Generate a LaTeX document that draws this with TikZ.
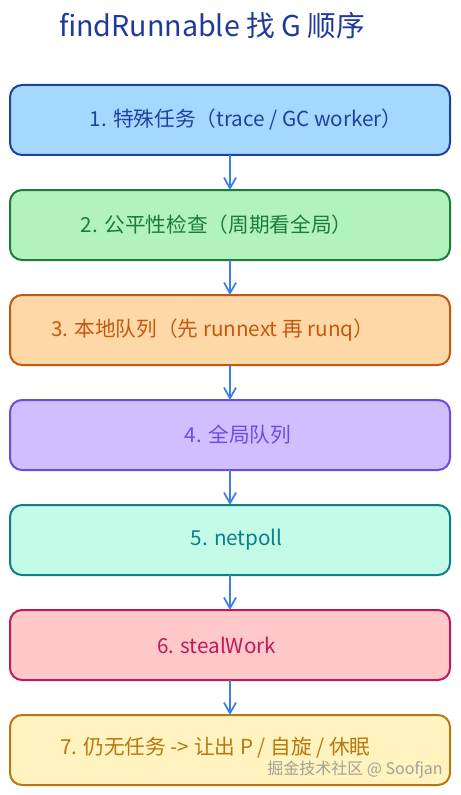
\documentclass[tikz,border=0pt]{standalone}
\usepackage{fontspec}
\setmainfont{Noto Sans CJK SC}
\usepackage{tikz}
\usetikzlibrary{positioning, arrows.meta, calc}
\definecolor{ttlBlue}{HTML}{1E3A9E}
\definecolor{arrBlue}{HTML}{3D7FE6}
\definecolor{fSpecial}{HTML}{A5D8FF}
\definecolor{fSpecialB}{HTML}{1E429F}
\definecolor{fFair}{HTML}{B2F2BB}
\definecolor{fFairB}{HTML}{1C7C3C}
\definecolor{fLocal}{HTML}{FFD8A8}
\definecolor{fLocalB}{HTML}{C4580E}
\definecolor{fGlobal}{HTML}{D0BFFF}
\definecolor{fGlobalB}{HTML}{7048E8}
\definecolor{fNet}{HTML}{C3FAE8}
\definecolor{fNetB}{HTML}{0F7F86}
\definecolor{fSteal}{HTML}{FFC9C9}
\definecolor{fStealB}{HTML}{C2185B}
\definecolor{fIdle}{HTML}{FFF3BF}
\definecolor{fIdleB}{HTML}{B8780E}

\begin{document}
\begin{tikzpicture}[x=0.75pt, y=-0.75pt, box/.style={draw, rounded corners=9pt, line width=1.5pt, minimum width=330pt, minimum height=52.5pt, inner sep=0pt, outer sep=0pt}, txt/.style={font=\fontsize{15.5}{18}\selectfont, inner sep=0pt}, arr/.style={-{Straight Barb[length=8pt, width=9pt]}, line width=1.3pt, color=arrBlue}]
\useasboundingbox (0,0) rectangle (460,795);
\node[font=\fontsize{21.5}{26}\selectfont, color=ttlBlue] (title) at (212,26) {findRunnable 找 G 顺序};
\node[box, fill=fSpecial, draw=fSpecialB] (b1) at (230,120) {};
\node[box, fill=fFair, draw=fFairB, below=26.25pt of b1] (b2) {};
\node[box, fill=fLocal, draw=fLocalB, below=26.25pt of b2] (b3) {};
\node[box, fill=fGlobal, draw=fGlobalB, below=26.25pt of b3] (b4) {};
\node[box, fill=fNet, draw=fNetB, below=26.25pt of b4] (b5) {};
\node[box, fill=fSteal, draw=fStealB, below=26.25pt of b5] (b6) {};
\node[box, fill=fIdle, draw=fIdleB, below=26.25pt of b6] (b7) {};
\node[txt, text=fSpecialB] (t1) at ([xshift=12pt]b1.center) {1. 特殊任务（trace / GC worker）};
\node[txt, text=fFairB] (t2) at ([xshift=-10pt]b2.center) {2. 公平性检查（周期看全局）};
\node[txt, text=fLocalB] (t3) at ([xshift=-13pt]b3.center) {3. 本地队列（先 runnext 再 runq）};
\node[txt, text=fGlobalB] (t4) at ([xshift=6pt]b4.center) {4. 全局队列};
\node[txt, text=fNetB] (t5) at ([xshift=5pt]b5.center) {5. netpoll};
\node[txt, text=fStealB] (t6) at ([xshift=-10pt]b6.center) {6. stealWork};
\node[txt, text=fIdleB] (t7) at ([xshift=-11pt, yshift=2pt]b7.center) {7. 仍无任务 -> 让出 P / 自旋 / 休眠};
\draw[arr] (b1)--(b2); \draw[arr] (b2)--(b3); \draw[arr] (b3)--(b4); \draw[arr] (b4)--(b5); \draw[arr] (b5)--(b6); \draw[arr] (b6)--(b7);
% watermark
\node[font=\fontsize{12}{14}\selectfont, color=black!45, opacity=0.8] (wm) at (355,770) {掘金技术社区 @ Soofjan};
\end{tikzpicture}
\end{document}
